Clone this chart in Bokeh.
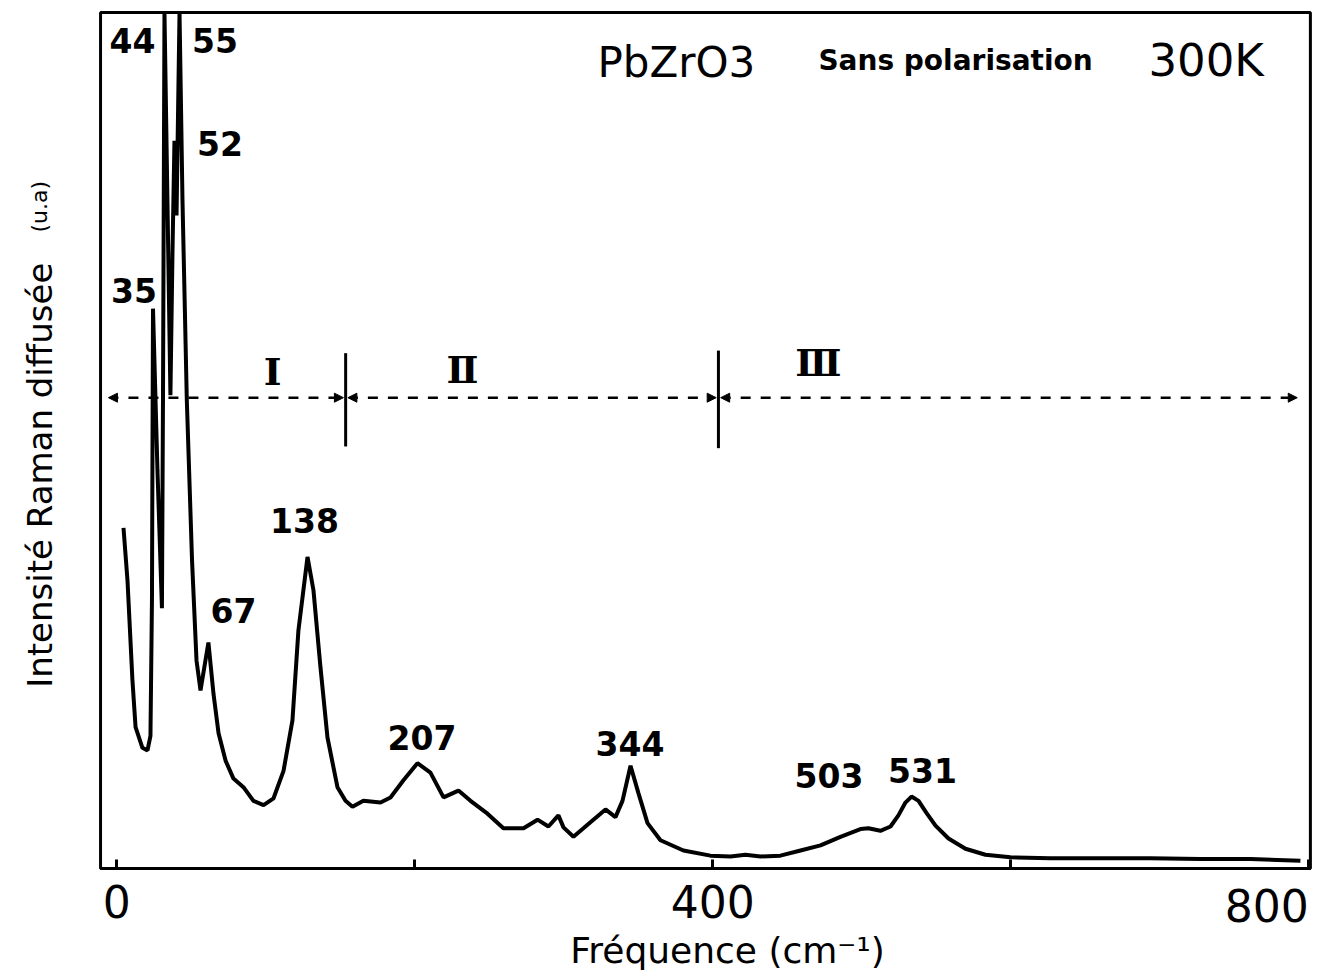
import math
from bokeh.plotting import figure
from bokeh.models import Range1d, FixedTicker, Label, Arrow, NormalHead, ColumnDataSource, LinearAxis
from bokeh.embed import file_html
from bokeh.resources import INLINE
from bokeh.core.properties import value

# ---- data (frequency in cm-1, intensity in arbitrary units) ----
freq_cm = [4.5, 7.2, 10.5, 12.6, 17.2, 20.6, 22.6, 23.6, 24.3, 27.3, 30.3, 31.0, 32.0,
           34.0, 36.0, 37.4, 38.7, 40.1, 42.1, 44.1, 47.0, 50.5, 53.5, 56.2, 61.5, 64.9,
           68.3, 73.0, 78.3, 85.0, 91.7, 98.5, 105.2, 111.9, 117.9, 121.9, 128.0, 132.0,
           136.7, 141.4, 148.1, 153.5, 158.2, 165.5, 177.0, 183.7, 192.4, 201.8, 210.5,
           219.3, 229.3, 237.4, 248.8, 259.5, 273.0, 282.4, 289.7, 296.4, 299.8, 306.5,
           317.9, 328.0, 334.7, 339.4, 344.8, 350.1, 356.2, 364.9, 380.3, 398.4, 411.9,
           421.9, 432.0, 445.4, 458.9, 472.3, 485.7, 499.1, 504.5, 512.5, 519.3, 524.6,
           529.3, 533.4, 538.1, 543.4, 549.5, 558.2, 569.6, 583.0, 599.8, 626.6, 660.2,
           693.7, 727.3, 760.9, 794.4]
intensite = [39.8, 33.6, 22.0, 16.5, 14.1, 13.8, 15.5, 31.3, 65.4, 46.5, 30.4, 54.7, 101.0,
             78.0, 55.3, 72.2, 85.0, 76.3, 101.0, 78.0, 54.7, 36.0, 24.3, 20.8, 26.4, 20.4,
             15.8, 12.6, 10.5, 9.5, 7.9, 7.4, 8.2, 11.4, 17.3, 27.8, 36.4, 32.5,
             23.5, 15.3, 9.5, 7.9, 7.2, 7.9, 7.7, 8.3, 10.3, 12.3, 11.2,
             8.3, 9.1, 7.9, 6.4, 4.7, 4.7, 5.7, 4.9, 6.2, 4.8, 3.7,
             5.4, 6.9, 6.0, 7.9, 12.0, 8.8, 5.3, 3.3, 2.1, 1.5, 1.4,
             1.6, 1.4, 1.5, 2.1, 2.7, 3.7, 4.6, 4.7, 4.4, 4.9, 6.2,
             7.7, 8.4, 7.9, 6.5, 5.0, 3.5, 2.3, 1.6, 1.3, 1.2, 1.2,
             1.2, 1.1, 1.1, 0.9]

pic_labels = ["44", "55", "52", "35", "67", "138", "207", "344", "503", "531"]
pic_x = [10.5, 65.9, 69.3, 11.5, 78.3, 126.0, 204.8, 344.4, 478.0, 540.7]
pic_y = [96.7, 96.7, 84.7, 67.5, 30.1, 40.7, 15.3, 14.6, 10.9, 11.4]

# spectral regions I, II, III
region_names = ["Ⅰ", "Ⅱ", "Ⅲ"]
region_limits = [-5.6, 153.6, 403.8, 792.3]
region_label_x = [104.6, 232.0, 470.9]
region_label_y = [58.1, 58.3, 59.1]
arrow_y = 55.0

tick_values = [0, 200, 400, 600, 800]

# plotting box (data space)
box_x = (-10.9, 801.1)
box_y = (0.0, 100.0)

FONT = "DejaVu Sans"

p = figure(width=1316, height=970, x_range=Range1d(-78.05, 805.2), y_range=Range1d(-11.92, 101.4),
           x_axis_location=None, y_axis_location=None, min_border=0,
           output_backend="svg", toolbar_location=None)
p.grid.visible = False
p.outline_line_color = None
p.background_fill_color = "white"
p.border_fill_color = "white"

# box around the spectrum
p.quad(left=[box_x[0]], right=[box_x[1]], bottom=[box_y[0]], top=[box_y[1]],
       fill_color=None, line_color="black", line_width=3)

# x axis, drawn at intensity 0
xa = LinearAxis(fixed_location=0, ticker=FixedTicker(ticks=tick_values), bounds=box_x)
xa.major_label_overrides = {200: "", 600: "", 800: ""}
xa.minor_tick_line_color = None
xa.major_tick_in = 9
xa.major_tick_out = 0
xa.major_tick_line_width = 3
xa.axis_line_width = 3
xa.major_label_text_font = FONT
xa.major_label_text_font_size = "44px"
xa.major_label_text_color = "black"
xa.major_label_standoff = 17
p.add_layout(xa, "below")

# spectrum (clipped to the box like the original off-scale peaks)
y_draw = [min(v, box_y[1]) for v in intensite]
p.line(freq_cm, y_draw, line_color="black", line_width=4)

# peak labels
src = ColumnDataSource(dict(x=pic_x, y=pic_y, t=pic_labels))
p.text(x="x", y="y", text="t", source=src, text_font=value(FONT), text_font_style="bold",
       text_font_size="33px", text_align="center", text_baseline="middle", text_color="black")

# region separators and dashed arrows
sep_x = region_limits[1:3]
p.segment(x0=sep_x, y0=[49.3, 49.1], x1=sep_x, y1=[60.2, 60.5], line_color="black", line_width=3)
for i in range(3):
    x0 = region_limits[i] + (1.5 if i > 0 else 0)
    x1 = region_limits[i + 1] - (1.5 if i < 2 else 0)
    p.add_layout(Arrow(start=NormalHead(size=9, fill_color="black", line_color="black", line_width=1),
                       end=NormalHead(size=9, fill_color="black", line_color="black", line_width=1),
                       x_start=x0, y_start=arrow_y, x_end=x1, y_end=arrow_y,
                       line_dash="10 10", line_width=2.5, line_color="black"))
rsrc = ColumnDataSource(dict(x=region_label_x, y=region_label_y, t=region_names))
p.text(x="x", y="y", text="t", source=rsrc, text_font=value("DejaVu Serif"), text_font_style="bold",
       text_font_size="38px", text_align="center", text_baseline="middle", text_color="black")

# titles inside the box
p.add_layout(Label(x=322.6, y=94.2, text="PbZrO3", text_font=FONT, text_font_size="42px",
                   text_align="left", text_baseline="middle", text_color="black"))
p.add_layout(Label(x=470.9, y=94.4, text="Sans  polarisation", text_font=FONT, text_font_style="bold",
                   text_font_size="28px", text_align="left", text_baseline="middle", text_color="black"))
p.add_layout(Label(x=692.4, y=94.4, text="300K", text_font=FONT, text_font_size="45px",
                   text_align="left", text_baseline="middle", text_color="black"))

# axis end label and axis titles
p.add_layout(Label(x=tick_values[-1], y=-4.3, text="800", text_font=FONT, text_font_size="44px",
                   text_align="right", text_baseline="middle", text_color="black"))
p.add_layout(Label(x=409.9, y=-9.6, text="Fréquence (cm⁻¹)", text_font=FONT, text_font_size="36px",
                   text_align="center", text_baseline="middle", text_color="black"))
p.add_layout(Label(x=-51.6, y=47.2, text="Intensité  Raman  diffusée", text_font=FONT,
                   text_font_size="34px", angle=math.pi / 2, text_align="center",
                   text_baseline="middle", text_color="black"))
p.add_layout(Label(x=-52.0, y=77.3, text="(u.a)", text_font=FONT, text_font_size="22px",
                   angle=math.pi / 2, text_align="center", text_baseline="middle", text_color="black"))

open("out.html", "w").write(file_html(p, INLINE))
